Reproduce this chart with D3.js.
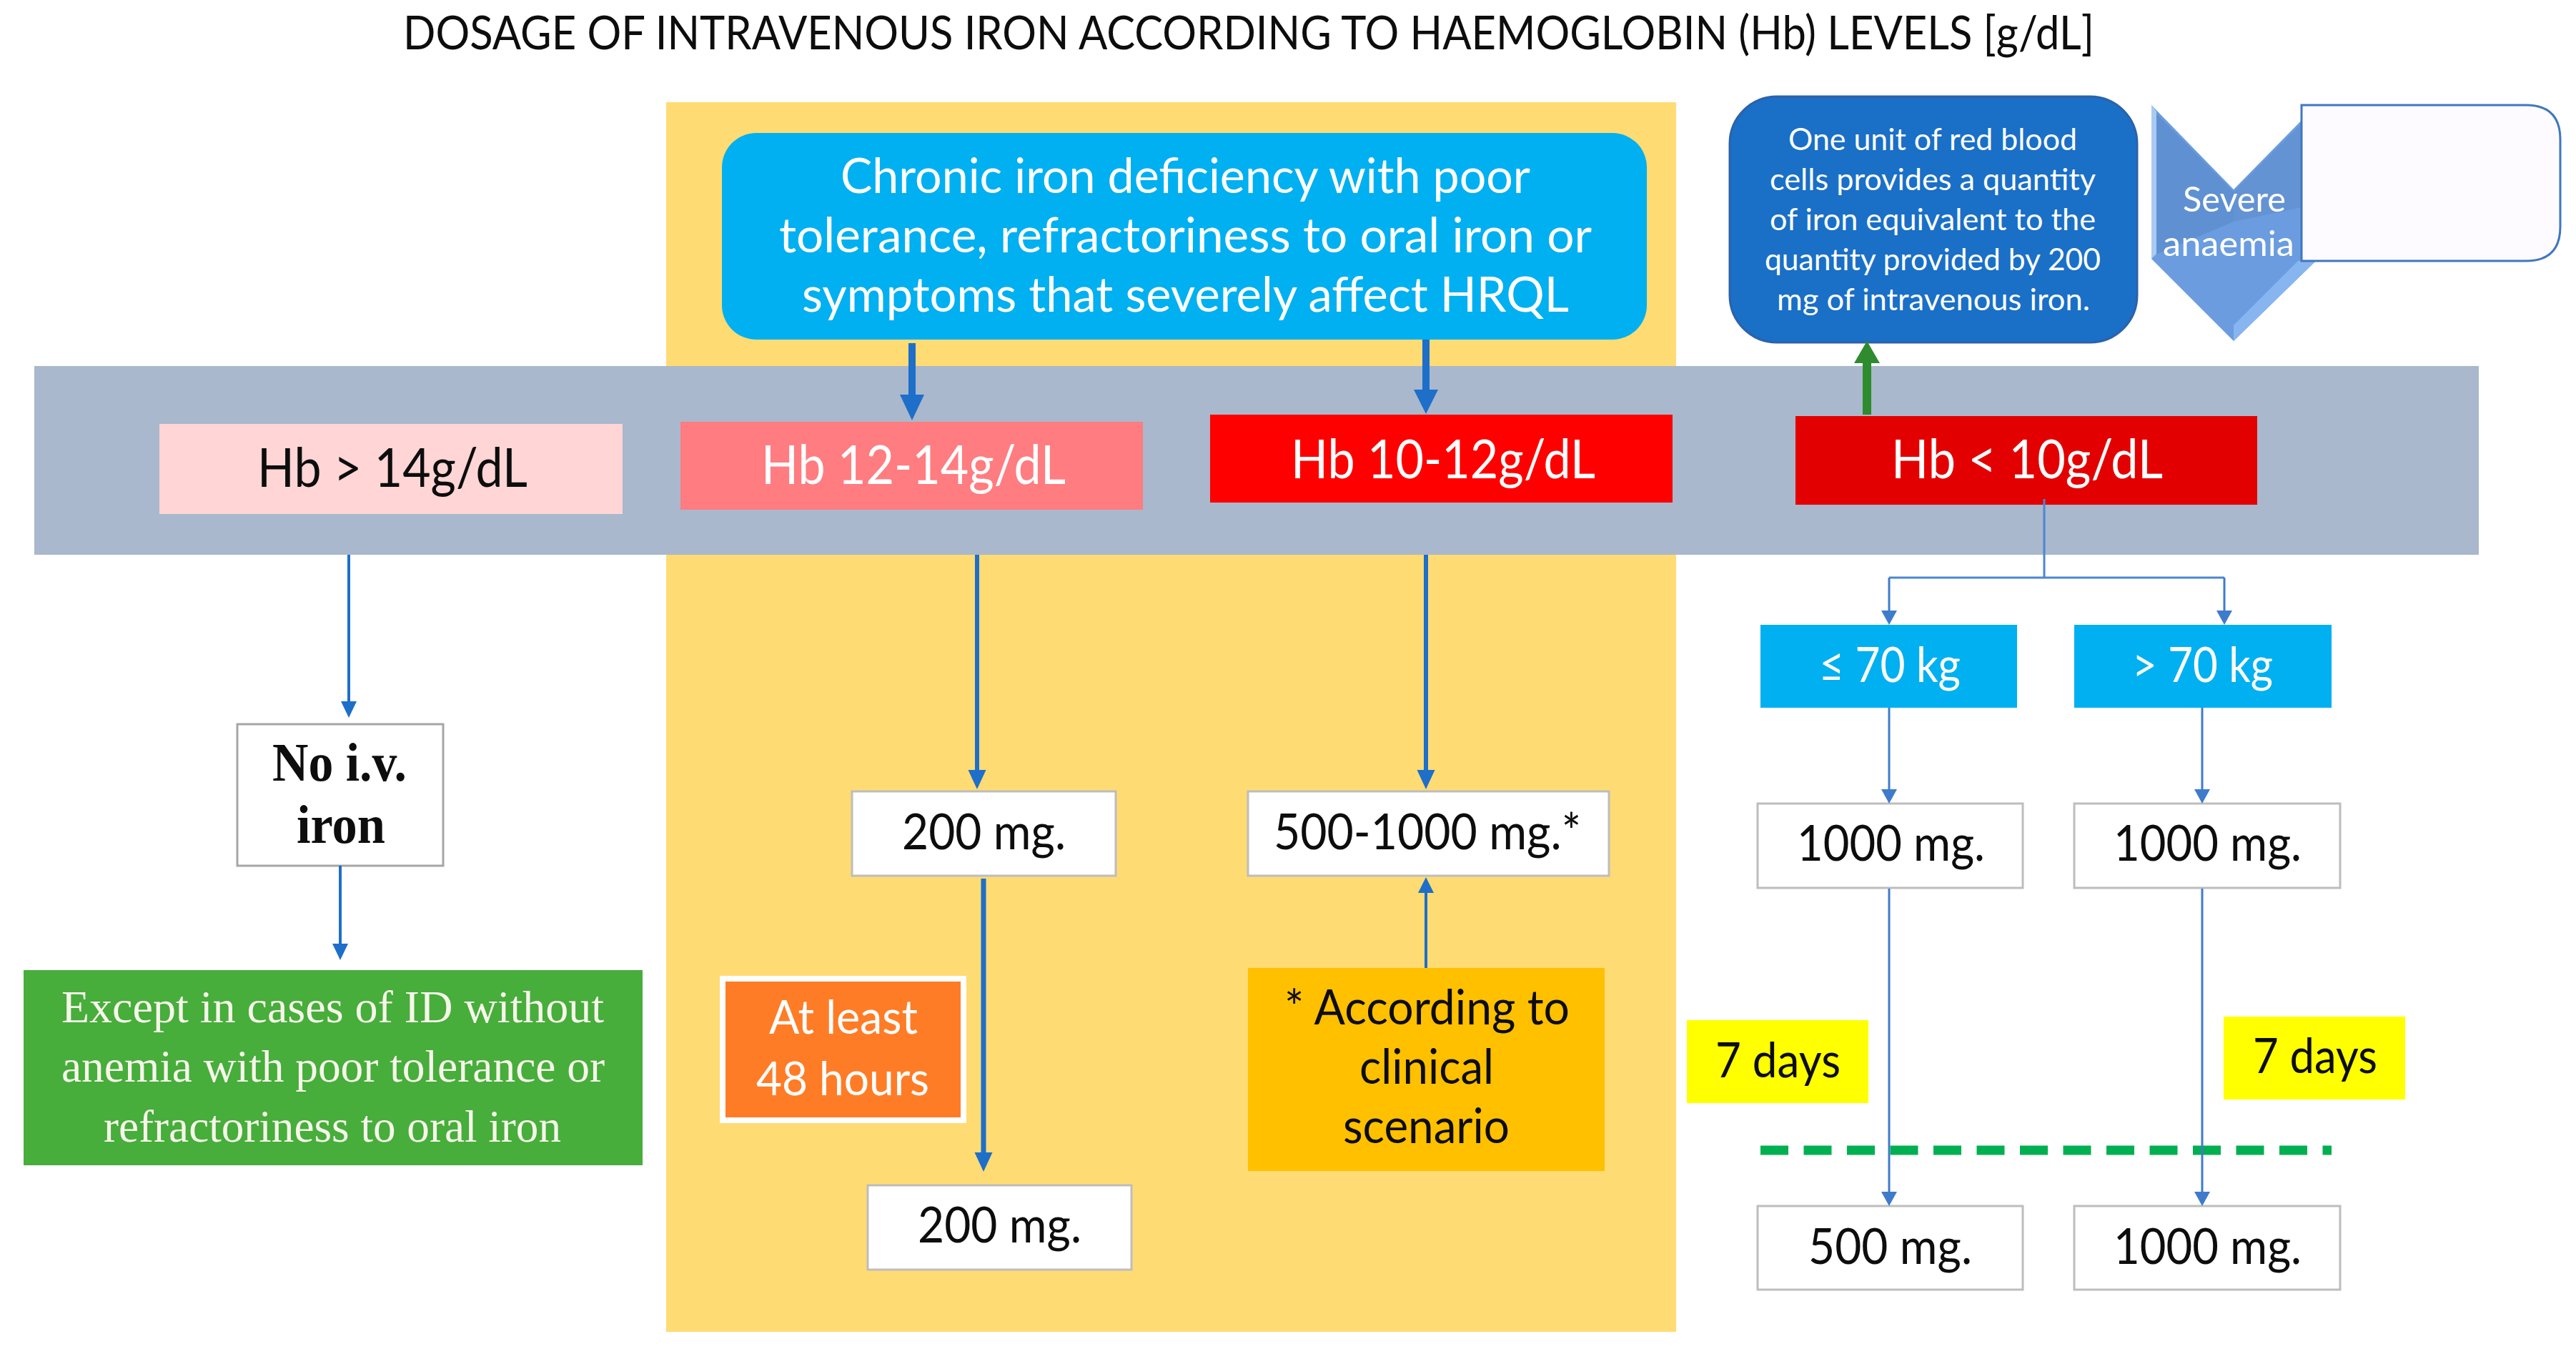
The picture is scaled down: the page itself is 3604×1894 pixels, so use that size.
<!DOCTYPE html>
<html>
<head>
<meta charset="utf-8">
<title>Dosage of intravenous iron</title>
<script src="https://cdn.jsdelivr.net/npm/d3@7/dist/d3.min.js"></script>
<style>
  html, body { margin: 0; padding: 0; background: #fff; }
  svg { display: block; }
</style>
</head>
<body>
<div id="chart"></div>
<script>
// Texts of the flow chart
var titleLabel = "DOSAGE OF INTRAVENOUS IRON ACCORDING TO HAEMOGLOBIN (Hb) LEVELS [g/dL]";
var hbLevels = ["Hb > 14g/dL", "Hb 12-14g/dL", "Hb 10-12g/dL", "Hb < 10g/dL"];
var chronicLines = ["Chronic iron deficiency with poor", "tolerance, refractoriness to oral iron or", "symptoms that severely affect HRQL"];
var unitLines = ["One unit of red blood", "cells provides a quantity", "of iron equivalent to the", "quantity provided by 200", "mg of intravenous iron."];
var severeLines = ["Severe", "anaemia"];
var noIronLines = ["No i.v.", "iron"];
var exceptLines = ["Except in cases of ID without", "anemia with poor tolerance or", "refractoriness to oral iron"];
var waitLines = ["At least", "48 hours"];
var scenarioLines = ["* According to", "clinical", "scenario"];
var weightBands = ["\u2264 70 kg", "> 70 kg"];
var firstDoses = ["200 mg.", "500-1000 mg.*", "1000 mg.", "1000 mg."];
var secondDoses = ["200 mg.", "500 mg.", "1000 mg."];
var intervals = ["7 days", "7 days"];

!function () {
  "use strict";

  var W = 3604, H = 1894;
  var SANS = "Lato, 'Noto Sans', sans-serif";
  var SERIF = "'Liberation Serif', serif";
  var BLUE = "#1d6fca", THIN = "#3f7bcb", INK = "#0d0d0d", EDGE = "#bdbdbd";

  var svg = d3.select("#chart").append("svg")
    .attr("width", W)
    .attr("height", H)
    .attr("viewBox", [0, 0, W, H]);

  // Panels, back to front
  var panels = [
    {x: 932, y: 143, w: 1413, h: 1720, fill: "#ffdb74"},
    {x: 48, y: 512, w: 3420, h: 264, fill: "#a9b8cc"},
    {x: 223, y: 593, w: 648, h: 126, fill: "#ffd5d5"},
    {x: 952, y: 590, w: 647, h: 123, fill: "#ff7c80"},
    {x: 1693, y: 580, w: 647, h: 123, fill: "#ff0000"},
    {x: 2512, y: 582, w: 646, h: 124, fill: "#e30000"},
    {x: 1010, y: 186, w: 1294, h: 289, r: 48, fill: "#00b0f0"},
    {x: 2420, y: 135, w: 570, h: 344, r: 66, fill: "#1a6fc6", stroke: "#2c62aa", sw: 3},
    {x: 332, y: 1013, w: 288, h: 198, fill: "#fff", stroke: "#a6a6a6", sw: 3},
    {x: 33, y: 1357, w: 866, h: 273, fill: "#47ad3b"},
    {x: 1192, y: 1107, w: 369, h: 118, fill: "#fff", stroke: EDGE, sw: 3},
    {x: 1214, y: 1658, w: 369, h: 118, fill: "#fff", stroke: EDGE, sw: 3},
    {x: 1746, y: 1107, w: 505, h: 118, fill: "#fff", stroke: EDGE, sw: 3},
    {x: 1011, y: 1369, w: 337, h: 198, fill: "#ff7c26", stroke: "#fff", sw: 8},
    {x: 1746, y: 1354, w: 499, h: 284, fill: "#ffc000"},
    {x: 2463, y: 874, w: 359, h: 116, fill: "#00b0f0"},
    {x: 2902, y: 874, w: 360, h: 116, fill: "#00b0f0"},
    {x: 2459, y: 1124, w: 371, h: 118, fill: "#fff", stroke: EDGE, sw: 3},
    {x: 2902, y: 1124, w: 372, h: 118, fill: "#fff", stroke: EDGE, sw: 3},
    {x: 2459, y: 1687, w: 371, h: 117, fill: "#fff", stroke: EDGE, sw: 3},
    {x: 2902, y: 1687, w: 372, h: 117, fill: "#fff", stroke: EDGE, sw: 3},
    {x: 2360, y: 1427, w: 254, h: 116, fill: "#ffff00"},
    {x: 3111, y: 1422, w: 254, h: 116, fill: "#ffff00"}
  ];

  svg.selectAll("rect.panel")
    .data(panels)
    .enter().append("rect")
    .attr("class", "panel")
    .attr("x", function (d) { return d.x; })
    .attr("y", function (d) { return d.y; })
    .attr("width", function (d) { return d.w; })
    .attr("height", function (d) { return d.h; })
    .attr("rx", function (d) { return d.r || 0; })
    .attr("fill", function (d) { return d.fill; })
    .attr("stroke", function (d) { return d.stroke || "none"; })
    .attr("stroke-width", function (d) { return d.sw || 0; });

  // Severe anaemia chevron with its bevel facets, and the empty callout over it
  var line = d3.line();
  var facets = [
    {points: [[3010, 147], [3125, 265], [3242, 146], [3242, 363], [3125, 477], [3010, 362]], fill: "#6a9cdf"},
    {points: [[3016, 158], [3125, 268], [3125, 310], [3016, 356]], fill: "#5f90d2"},
    {points: [[3125, 268], [3220, 173], [3220, 290], [3125, 310]], fill: "#6493d3"},
    {points: [[3010, 147], [3017, 156], [3017, 355], [3010, 362]], fill: "#a9caf2"},
    {points: [[3125, 477], [3125, 455], [3215, 365], [3242, 363]], fill: "#86b5f0"}
  ];

  svg.selectAll("path.facet")
    .data(facets)
    .enter().append("path")
    .attr("class", "facet")
    .attr("d", function (d) { return line(d.points) + "Z"; })
    .attr("fill", function (d) { return d.fill; });

  svg.append("path")
    .attr("d", "M3220,147H3534Q3582,147 3582,195V317Q3582,365 3534,365H3220Z")
    .attr("fill", "#fdfbff")
    .attr("stroke", "#3f77c0")
    .attr("stroke-width", 3);

  // Dashed 7 day line sits under the arrows
  svg.append("path")
    .attr("d", line([[2463, 1609], [3262, 1609]]))
    .attr("fill", "none")
    .attr("stroke", "#00b050")
    .attr("stroke-width", 13)
    .attr("stroke-dasharray", "39 21.5");

  // Connector without a head, from the Hb < 10 box to both weight bands
  svg.append("path")
    .attr("d", "M2860,698V808M2643,808H3112")
    .attr("fill", "none")
    .attr("stroke", "#4d86d2")
    .attr("stroke-width", 3);

  var arrows = [
    {x: 488, from: 776, to: 1004, sw: 4, hw: 22, hl: 23},
    {x: 476, from: 1211, to: 1343, sw: 4, hw: 22, hl: 23},
    {x: 1367, from: 776, to: 1104, sw: 6, hw: 25, hl: 27},
    {x: 1995, from: 776, to: 1104, sw: 6, hw: 25, hl: 27},
    {x: 1376, from: 1229, to: 1639, sw: 7, hw: 25, hl: 27},
    {x: 1995, from: 1354, to: 1227, sw: 4, hw: 22, hl: 22},
    {x: 1276, from: 480, to: 588, sw: 10, hw: 34, hl: 36},
    {x: 1995, from: 475, to: 579, sw: 10, hw: 34, hl: 34},
    {x: 2612, from: 580, to: 477, sw: 12, hw: 36, hl: 31, color: "#2e8b2e"},
    {x: 2643, from: 808, to: 874, sw: 3, hw: 22, hl: 20, color: THIN},
    {x: 3112, from: 808, to: 874, sw: 3, hw: 22, hl: 20, color: THIN},
    {x: 2643, from: 990, to: 1124, sw: 3, hw: 22, hl: 20, color: THIN},
    {x: 3081, from: 990, to: 1124, sw: 3, hw: 22, hl: 20, color: THIN},
    {x: 2643, from: 1243, to: 1687, sw: 3, hw: 22, hl: 20, color: THIN},
    {x: 3081, from: 1243, to: 1687, sw: 3, hw: 22, hl: 20, color: THIN}
  ];

  var arrow = svg.selectAll("g.arrow")
    .data(arrows)
    .enter().append("g")
    .attr("class", "arrow");

  arrow.append("path")
    .attr("d", function (d) {
      var dir = d.to > d.from ? 1 : -1;
      return line([[d.x, d.from], [d.x, d.to - dir * d.hl]]);
    })
    .attr("stroke", function (d) { return d.color || BLUE; })
    .attr("stroke-width", function (d) { return d.sw; });

  arrow.append("path")
    .attr("d", function (d) {
      var dir = d.to > d.from ? 1 : -1;
      return line([[d.x - d.hw / 2, d.to - dir * d.hl], [d.x + d.hw / 2, d.to - dir * d.hl], [d.x, d.to]]) + "Z";
    })
    .attr("fill", function (d) { return d.color || BLUE; });

  // Every label: [left edge, fitted width, baseline], parallel to its text array
  function place(texts, spots, style) {
    return texts.map(function (t, i) {
      return Object.assign({text: t, x: spots[i][0], w: spots[i][1], y: spots[i][2]}, style);
    });
  }

  var white = "#fff";
  var labels = [].concat(
    place([titleLabel], [[564, 2366, 69]], {size: 66, fill: INK}),
    place(hbLevels.slice(0, 1), [[360, 378, 681]], {size: 76, fill: INK}),
    place(hbLevels.slice(1), [[1065, 426, 677], [1806, 426, 669], [2646, 380, 669]], {size: 76, fill: white}),
    place(chronicLines, [[1176, 965, 270], [1090, 1137, 353], [1122, 1073, 436]], {size: 68, fill: white}),
    place(unitLines, [[2502, 404, 210], [2476, 456, 266], [2476, 456, 322], [2469, 470, 378], [2486, 438, 434]], {size: 42, fill: white}),
    place(severeLines, [[3054, 144, 296], [3026, 184, 358]], {size: 48, fill: white}),
    place(noIronLines, [[381, 188, 1092], [415, 124, 1179]], {size: 76, fill: INK, font: SERIF, weight: 700}),
    place(exceptLines, [[86, 759, 1430], [86, 760, 1513], [145, 640, 1597]], {size: 64, fill: "#f6f6ea", font: SERIF}),
    place(waitLines, [[1076, 208, 1446], [1058, 242, 1532]], {size: 66, fill: white}),
    place(scenarioLines, [[1797, 399, 1433], [1902, 188, 1516], [1879, 233, 1599]], {size: 68, fill: INK}),
    place(weightBands, [[2545, 198, 954], [2983, 197, 954]], {size: 68, fill: white}),
    place(firstDoses, [[1262, 229, 1188], [1782, 430, 1188], [2514, 263, 1204], [2957, 263, 1204]], {size: 70, fill: INK}),
    place(secondDoses, [[1284, 229, 1738], [2530, 229, 1768], [2957, 263, 1768]], {size: 70, fill: INK}),
    place(intervals, [[2400, 175, 1507], [3152, 174, 1501]], {size: 68, fill: INK})
  );

  svg.selectAll("text.label")
    .data(labels)
    .enter().append("text")
    .attr("class", "label")
    .attr("x", function (d) { return d.x; })
    .attr("y", function (d) { return d.y; })
    .attr("textLength", function (d) { return d.w; })
    .attr("lengthAdjust", "spacingAndGlyphs")
    .attr("font-family", function (d) { return d.font || SANS; })
    .attr("font-weight", function (d) { return d.weight || 400; })
    .attr("font-size", function (d) { return d.size; })
    .attr("fill", function (d) { return d.fill; })
    .text(function (d) { return d.text; });

}();
</script>
</body>
</html>
